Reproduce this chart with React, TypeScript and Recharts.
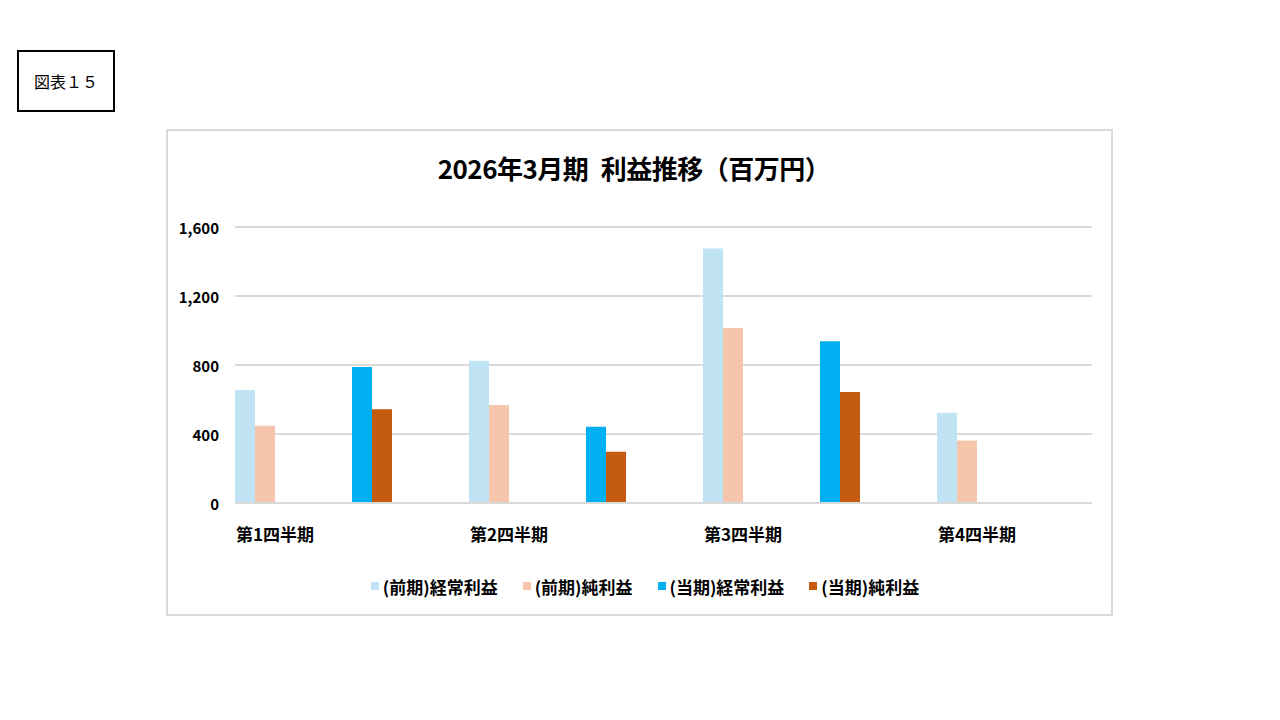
import { BarChart, Bar, XAxis, YAxis, CartesianGrid, Legend } from "recharts";

const quarters = ["第1四半期", "第2四半期", "第3四半期", "第4四半期"];
const prevOrdinary = [655, 825, 1476, 523];
const prevNet = [448, 568, 1014, 363];
const curOrdinary = [788, 442, 937, null];
const curNet = [543, 297, 643, null];
const yTicks = [0, 400, 800, 1200, 1600];
const seriesNames = ["(前期)経常利益", "(前期)純利益", "(当期)経常利益", "(当期)純利益"];

// each quarter gets two slots: previous-year pair, then current-year pair
const data = quarters.flatMap((q, i) => [
  { key: `${i}p`, label: q, prevOrdinary: prevOrdinary[i], prevNet: prevNet[i] },
  {
    key: `${i}c`,
    label: "",
    curOrdinary: curOrdinary[i] ?? undefined,
    curNet: curNet[i] ?? undefined,
  },
]);

const FONT = "'Noto Sans CJK JP', 'Noto Sans', sans-serif";

const XTick = ({ x, y, index }: any) => {
  const label = data[index]?.label;
  if (!label) return null;
  return (
    <text
      x={x - 18.5}
      y={y + 30}
      textAnchor="start"
      dominantBaseline="central"
      fontFamily={FONT}
      fontWeight={700}
      fontSize={17}
      fill="#000"
    >
      {label}
    </text>
  );
};

const YTick = ({ x, y, payload }: any) => (
  <text
    x={x - 16}
    y={y}
    textAnchor="end"
    dominantBaseline="central"
    fontFamily={FONT}
    fontWeight={700}
    fontSize={15}
    fill="#000"
  >
    {payload.value.toLocaleString("en-US")}
  </text>
);

const renderLegend = ({ payload }: any) => {
  const items = [...(payload || [])].sort(
    (a: any, b: any) => seriesNames.indexOf(a.value) - seriesNames.indexOf(b.value)
  );
  return (
    <div
      style={{
        display: "flex",
        justifyContent: "center",
        alignItems: "center",
        height: 20,
        gap: 25,
        fontFamily: FONT,
        fontWeight: 700,
        fontSize: 17,
        color: "#000",
      }}
    >
      {items.map((p: any) => (
        <span key={p.value} style={{ display: "flex", alignItems: "center" }}>
          <span
            style={{ width: 8, height: 8, background: p.color, marginRight: 4 }}
          />
          {p.value}
        </span>
      ))}
    </div>
  );
};

export default function App() {
  return (
    <div style={{ position: "relative", width: 1264, height: 704 }}>
      <div
        style={{
          position: "absolute",
          left: 9,
          top: 42,
          width: 98,
          height: 62,
          border: "2px solid #000",
          boxSizing: "border-box",
          display: "flex",
          alignItems: "center",
          justifyContent: "center",
          fontFamily: FONT,
          fontSize: 16,
        }}
      >
        図表１５
      </div>
      <div
        style={{
          position: "absolute",
          left: 158,
          top: 121,
          width: 947,
          height: 487,
          border: "2px solid #d9d9d9",
          boxSizing: "border-box",
          background: "#fff",
        }}
      >
        <div
          style={{
            position: "absolute",
            left: 0,
            top: 22,
            width: 932,
            lineHeight: "30px",
            textAlign: "center",
            fontFamily: FONT,
            fontWeight: 700,
            fontSize: 26,
            letterSpacing: -0.5,
            color: "#000",
          }}
        >
          2026年3月期{"\u2002"}利益推移（百万円）
        </div>
        <BarChart
          width={943}
          height={483}
          data={data}
          margin={{ top: 96, right: 19, left: 7, bottom: 18 }}
          barGap={0}
          barCategoryGap={39}
        >
          <CartesianGrid vertical={false} stroke="#d9d9d9" strokeWidth={2} />
          <XAxis
            dataKey="key"
            interval={0}
            height={73}
            padding={{ left: -39, right: -40 }}
            tickLine={false}
            tickSize={0}
            tickMargin={0}
            axisLine={{ stroke: "#d9d9d9", strokeWidth: 2 }}
            tick={<XTick />}
          />
          <YAxis
            width={60}
            domain={[0, 1600]}
            ticks={yTicks}
            axisLine={false}
            tickLine={false}
            tickSize={0}
            tickMargin={0}
            tick={<YTick />}
          />
          <Legend
            verticalAlign="bottom"
            content={renderLegend}
            wrapperStyle={{ left: 7, width: 940 }}
          />
          <Bar dataKey="prevOrdinary" name={seriesNames[0]} stackId="a" fill="#c1e4f5" isAnimationActive={false} />
          <Bar dataKey="prevNet" name={seriesNames[1]} stackId="b" fill="#f5c6ac" isAnimationActive={false} />
          <Bar dataKey="curOrdinary" name={seriesNames[2]} stackId="a" fill="#00b0f0" isAnimationActive={false} />
          <Bar dataKey="curNet" name={seriesNames[3]} stackId="b" fill="#c55a11" isAnimationActive={false} />
        </BarChart>
      </div>
    </div>
  );
}
